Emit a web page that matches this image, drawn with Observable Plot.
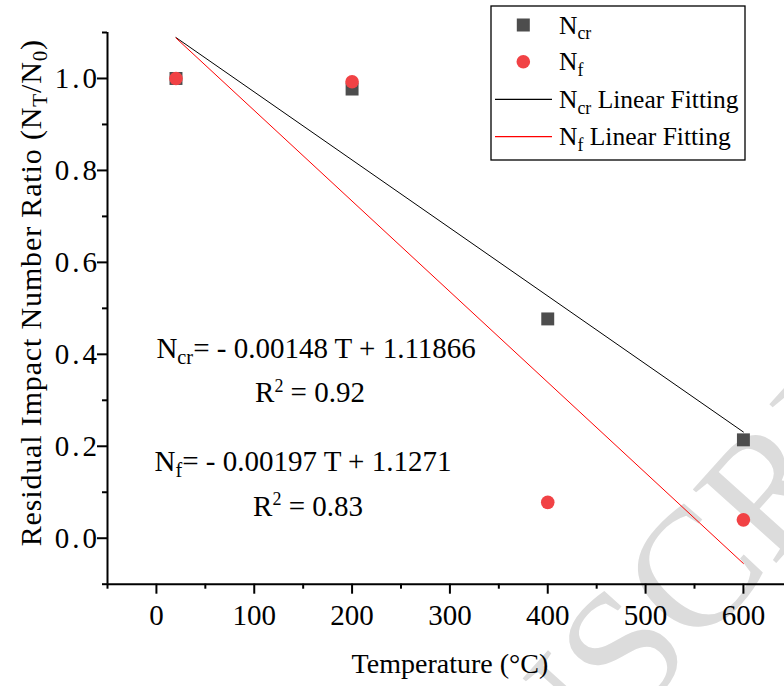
<!DOCTYPE html>
<html><head><meta charset="utf-8">
<script src="https://cdn.jsdelivr.net/npm/d3@7"></script>
<script src="https://cdn.jsdelivr.net/npm/@observablehq/plot@0.6"></script>
<style>
body{margin:0;background:#fff}
#chart{position:relative;width:784px;height:686px;overflow:hidden}
.ytick text{letter-spacing:3px}
</style>
</head><body><div id="chart"></div>
<script>
// ---- data ----
const temperatures = [20, 200, 400, 600];
const ncrValues = [1.000, 0.977, 0.477, 0.214];
const nfValues = [1.000, 0.993, 0.078, 0.040];
const fitTemps = [20, 600];
const ncrFitValues = [1.089, 0.231];
const nfFitValues = [1.088, -0.055];
const xMajorTicks = [0, 100, 200, 300, 400, 500, 600];
const xMinorTicks = [-50, 50, 150, 250, 350, 450, 550];
const yMajorTicks = [0.0, 0.2, 0.4, 0.6, 0.8, 1.0];
const yMinorTicks = [-0.1, 0.1, 0.3, 0.5, 0.7, 0.9, 1.1];
const legendLabels = ["N_{cr}", "N_{f}", "N_{cr} Linear Fitting", "N_{f} Linear Fitting"];
const equationTexts = ["N_{cr}= - 0.00148 T + 1.11866", "N_{f}= - 0.00197 T + 1.1271"];
const equationX = [0, -2];
const equationY = [0.393, 0.147];
const r2Texts = ["R^{2} = 0.92", "R^{2} = 0.83"];
const r2X = [157, 155];
const r2Y = [0.296, 0.049];
const xTitle = "Temperature (°C)";
const yTitle = "Residual Impact Number Ratio (N_{T}/N_{0})";
const watermark = "ACCEPTED MANUSCRIPT";

const SERIF = "'Liberation Serif', 'Times New Roman', serif";
const SQUARE = "#4d4d4d", RED = "#f14245";

const pts = temperatures.map((t, i) => ({t, ncr: ncrValues[i], nf: nfValues[i]}));
const fits = fitTemps.map((t, i) => ({t, ncr: ncrFitValues[i], nf: nfFitValues[i]}));
const eqs = equationTexts.map((s, i) => ({x: equationX[i], y: equationY[i], s}));
const r2s = r2Texts.map((s, i) => ({x: r2X[i], y: r2Y[i], s}));

const plot = Plot.plot({
  width: 784, height: 686,
  marginLeft: 107, marginRight: 0, marginTop: 32, marginBottom: 102.3,
  style: {fontFamily: SERIF, color: "black", background: "white", overflow: "visible"},
  x: {domain: [-50, 642]},
  y: {domain: [-0.1, 1.1]},
  marks: [
    Plot.line(fits, {x: "t", y: "ncr", stroke: "black", strokeWidth: 1}),
    Plot.line(fits, {x: "t", y: "nf", stroke: "#ff0000", strokeWidth: 1}),
    Plot.dot(pts, {x: "t", y: "ncr", symbol: "square", r: 7.3, fill: SQUARE, stroke: "none"}),
    Plot.dot(pts, {x: "t", y: "nf", symbol: "circle", r: 6.8, fill: RED, stroke: "none"}),
    Plot.ruleX([-50], {strokeWidth: 2}),
    Plot.ruleY([-0.1], {strokeWidth: 2}),
    Plot.axisX(xMajorTicks, {tickSize: 10, tickPadding: 10, strokeWidth: 2, fontSize: 29, fontFamily: SERIF, label: null, tickFormat: d3.format("d")}),
    Plot.axisX(xMinorTicks, {tickSize: 5, strokeWidth: 2, label: null, tickFormat: () => ""}),
    Plot.axisY(yMajorTicks, {tickSize: 10, tickPadding: -2.5, strokeWidth: 2, fontSize: 29, fontFamily: SERIF, label: null, tickFormat: d3.format(".1f"), className: "ytick"}),
    Plot.axisY(yMinorTicks, {tickSize: 5, strokeWidth: 2, label: null, tickFormat: () => ""}),
    Plot.text(eqs, {x: "x", y: "y", text: "s", textAnchor: "start", lineAnchor: "bottom", fontSize: 29, fontFamily: SERIF}),
    Plot.text(r2s, {x: "x", y: "y", text: "s", textAnchor: "middle", lineAnchor: "bottom", fontSize: 29, fontFamily: SERIF}),
    Plot.text([xTitle], {x: () => 300, text: d => d, frameAnchor: "bottom", dy: 88.3, textAnchor: "middle", lineAnchor: "bottom", fontSize: 28, fontFamily: SERIF}),
    Plot.text([yTitle], {y: () => 0.534, text: d => d, frameAnchor: "left", dx: -67, rotate: -90, textAnchor: "middle", lineAnchor: "bottom", fontSize: 30, fontFamily: SERIF, className: "ytitle"})
  ]
});
document.getElementById("chart").appendChild(plot);

const svg = d3.select(plot);
svg.selectAll(".ytitle text").style("letter-spacing", "0.85px");
svg.selectAll("text").filter(function() { return /^-?\d\.\d$/.test(this.textContent); }).style("letter-spacing", "3px");

// watermark behind everything
svg.insert("text", ":first-child")
  .attr("transform", "translate(344,1043) rotate(-48)")
  .attr("text-anchor", "middle")
  .attr("font-family", SERIF)
  .attr("font-size", 170)
  .attr("fill", "#dcdcdc")
  .text(watermark);

// legend
const lg = svg.append("g").attr("font-family", SERIF).attr("font-size", 25.5).attr("fill", "black").attr("text-anchor", "start");
lg.append("rect").attr("x", 491).attr("y", 6).attr("width", 254).attr("height", 154)
  .attr("fill", "white").attr("stroke", "black").attr("stroke-width", 1.3);
const rowY = [25, 61.7, 99.3, 136.7];
lg.append("rect").attr("x", 523.3 - 6.5).attr("y", rowY[0] - 6.5).attr("width", 13).attr("height", 13).attr("fill", SQUARE);
lg.append("circle").attr("cx", 523.3).attr("cy", rowY[1]).attr("r", 6.8).attr("fill", RED);
lg.append("line").attr("x1", 495).attr("x2", 552).attr("y1", rowY[2]).attr("y2", rowY[2]).attr("stroke", "black").attr("stroke-width", 1.2);
lg.append("line").attr("x1", 495).attr("x2", 552).attr("y1", rowY[3]).attr("y2", rowY[3]).attr("stroke", "#ff0000").attr("stroke-width", 1.2);
legendLabels.forEach((s, i) => {
  lg.append("text").attr("x", 559).attr("y", rowY[i] + 8.6).attr("text-anchor", "start").text(s);
});

// rich text: subscripts / superscripts
function richify(el) {
  const raw = el.textContent;
  if (!/[_^]\{/.test(raw)) return;
  const fs = parseFloat(getComputedStyle(el).fontSize) || 28;
  while (el.firstChild) el.removeChild(el.firstChild);
  const re = /([_^])\{([^}]*)\}/g;
  let last = 0, m, shift = 0;
  const add = (s, mode) => {
    const t = document.createElementNS("http://www.w3.org/2000/svg", "tspan");
    t.textContent = s;
    const target = mode === "sub" ? 0.22 * fs : mode === "sup" ? -0.36 * fs : 0;
    const dy = target - shift;
    if (dy) t.setAttribute("dy", dy.toFixed(2));
    shift = target;
    if (mode) t.setAttribute("font-size", ((mode === "sub" ? 0.7 : 0.62) * fs).toFixed(2));
    el.appendChild(t);
  };
  while ((m = re.exec(raw))) {
    if (m.index > last) add(raw.slice(last, m.index), null);
    add(m[2], m[1] === "_" ? "sub" : "sup");
    last = re.lastIndex;
  }
  if (last < raw.length) add(raw.slice(last), null);
}
plot.querySelectorAll("text").forEach(richify);
</script>
</body></html>
